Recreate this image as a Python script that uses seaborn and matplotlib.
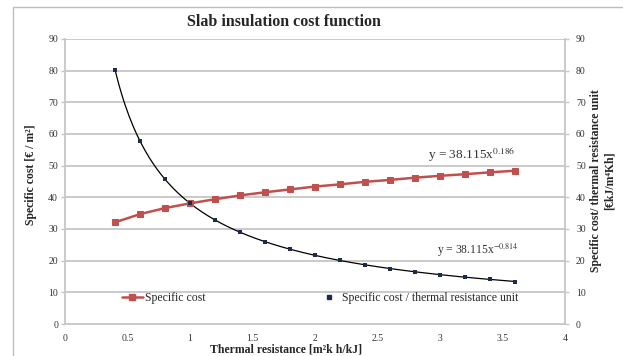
import numpy as np
import pandas as pd
import matplotlib
matplotlib.use("Agg")
import matplotlib.pyplot as plt
import seaborn as sns
from matplotlib.patches import Rectangle
from matplotlib.lines import Line2D

# Thermal resistance [m²K h/kJ]
resistance = [0.4, 0.6, 0.8, 1.0, 1.2, 1.4, 1.6, 1.8, 2.0, 2.2, 2.4, 2.6, 2.8, 3.0, 3.2, 3.4, 3.6]
# Specific cost [€/m²]
specific_cost = [32.1, 34.7, 36.6, 38.1, 39.4, 40.6, 41.6, 42.5, 43.4, 44.1, 44.9, 45.5, 46.2, 46.8, 47.3, 47.9, 48.4]
# Specific cost per thermal resistance unit [€kJ/m⁴Kh]
cost_per_unit = [80.3, 57.8, 45.7, 38.1, 32.9, 29.0, 26.0, 23.6, 21.7, 20.1, 18.7, 17.5, 16.5, 15.6, 14.8, 14.1, 13.4]

# Power-law trendline coefficients (y = a * x^b)
trend_a = 38.115
trend_b_cost = 0.186
trend_b_unit = -0.814

x_ticks = [0, 0.5, 1, 1.5, 2, 2.5, 3, 3.5, 4]
y_ticks = [0, 10, 20, 30, 40, 50, 60, 70, 80, 90]

df = pd.DataFrame({"R": resistance, "cost": specific_cost, "unit": cost_per_unit})

sns.set_theme(style="white")
plt.rcParams["font.family"] = ["Liberation Serif", "DejaVu Serif"]
plt.rcParams["mathtext.fontset"] = "stix"

W, H = 623, 356
fig = plt.figure(figsize=(W / 100, H / 100), dpi=100)
fig.patch.set_facecolor("white")

# outer chart frame
fig.patches.append(Rectangle((13 / W, -0.1), 1.2, 1 - 7 / H + 0.1, transform=fig.transFigure,
                             fill=False, edgecolor="#BDBDBD", linewidth=1.0, zorder=0))

ax = fig.add_axes([65 / W, 1 - 324 / H, 500 / W, 285 / H])

grid_c = "#C6C6C6"
red = "#C0504D"
navy = "#1C2B4E"

ax.set_xlim(0, 4)
ax.set_ylim(0, 90)
ax.set_xticks(x_ticks)
ax.set_xticklabels([f"{t:g}" for t in x_ticks])
ax.set_yticks(y_ticks)
for yv in y_ticks[1:]:
    ax.axhline(yv, color=grid_c, linewidth=1.3, zorder=0)

# trendline for cost per unit
xs = np.linspace(resistance[0], resistance[-1], 200)
ax.plot(xs, trend_a * xs ** trend_b_unit, color="black", linewidth=0.9, zorder=2)

sns.lineplot(data=df, x="R", y="cost", ax=ax, color=red, linewidth=1.8,
             marker="s", markersize=3.8, markeredgecolor=red, zorder=3, legend=False)
sns.scatterplot(data=df, x="R", y="unit", ax=ax, color=navy, marker="s", s=10,
                edgecolor=navy, linewidth=0, zorder=4, legend=False)

ax.set_xlabel("")
ax.set_ylabel("")

for side in ["top", "right"]:
    ax.spines[side].set_visible(False)
for side in ["left", "bottom"]:
    ax.spines[side].set_color(grid_c)
    ax.spines[side].set_linewidth(1.3)

ax.tick_params(axis="both", which="both", direction="out", length=3, width=1.0,
               color=grid_c, labelsize=7, labelcolor="#333333", pad=2)
ax.tick_params(axis="x", pad=4)

ax2 = ax.twinx()
ax2.set_ylim(0, 90)
ax2.set_yticks(y_ticks)
for side in ["top", "left", "bottom"]:
    ax2.spines[side].set_visible(False)
ax2.spines["right"].set_color(grid_c)
ax2.spines["right"].set_linewidth(1.3)
ax2.tick_params(axis="y", direction="out", length=3, width=1.0, color=grid_c,
                labelsize=7, labelcolor="#333333", pad=5)
ax2.grid(False)

# titles and axis labels
fig.text(284 / W, 1 - 22 / H, "Slab insulation cost function", ha="center", va="center",
         fontsize=11.5, fontweight="bold")
fig.text(286 / W, 1 - 349 / H, "Thermal resistance [m²k h/kJ]", ha="center", va="center",
         fontsize=8.5, fontweight="bold")
fig.text(31 / W, 1 - 175 / H, "Specific cost [€ / m²]", ha="center", va="center",
         rotation=90, fontsize=8.5, fontweight="bold")
fig.text(603 / W, 1 - 181 / H, "Specific cost/ thermal resistance unit\n[€kJ/m⁴Kh]",
         ha="center", va="center", rotation=90, fontsize=8.5, fontweight="bold",
         linespacing=1.2, family=["Liberation Serif", "DejaVu Serif"])

# trendline equations
fig.text(472 / W, 1 - 155 / H, "y = 38.115x$^{0.186}$", ha="center", va="center",
         fontsize=9.6, color="#333333")
fig.text(478 / W, 1 - 250 / H, "y = 38.115x$^{-0.814}$", ha="center", va="center",
         fontsize=8.4, color="#333333")

handles = [
    Line2D([0], [0], color=red, linewidth=1.8, marker="s", markersize=3.8, markeredgecolor=red),
    Line2D([0], [0], color=navy, linestyle="none", marker="s", markersize=3.2),
]
ax.legend(handles, ["Specific cost", "Specific cost / thermal resistance unit"],
          loc="center", bbox_to_anchor=(0.51, 0.091), ncol=2, frameon=False,
          handlelength=1.8, handletextpad=0.2, columnspacing=9.5,
          prop={"family": "Liberation Serif", "size": 8.5})

fig.savefig("out.png", dpi=100)
